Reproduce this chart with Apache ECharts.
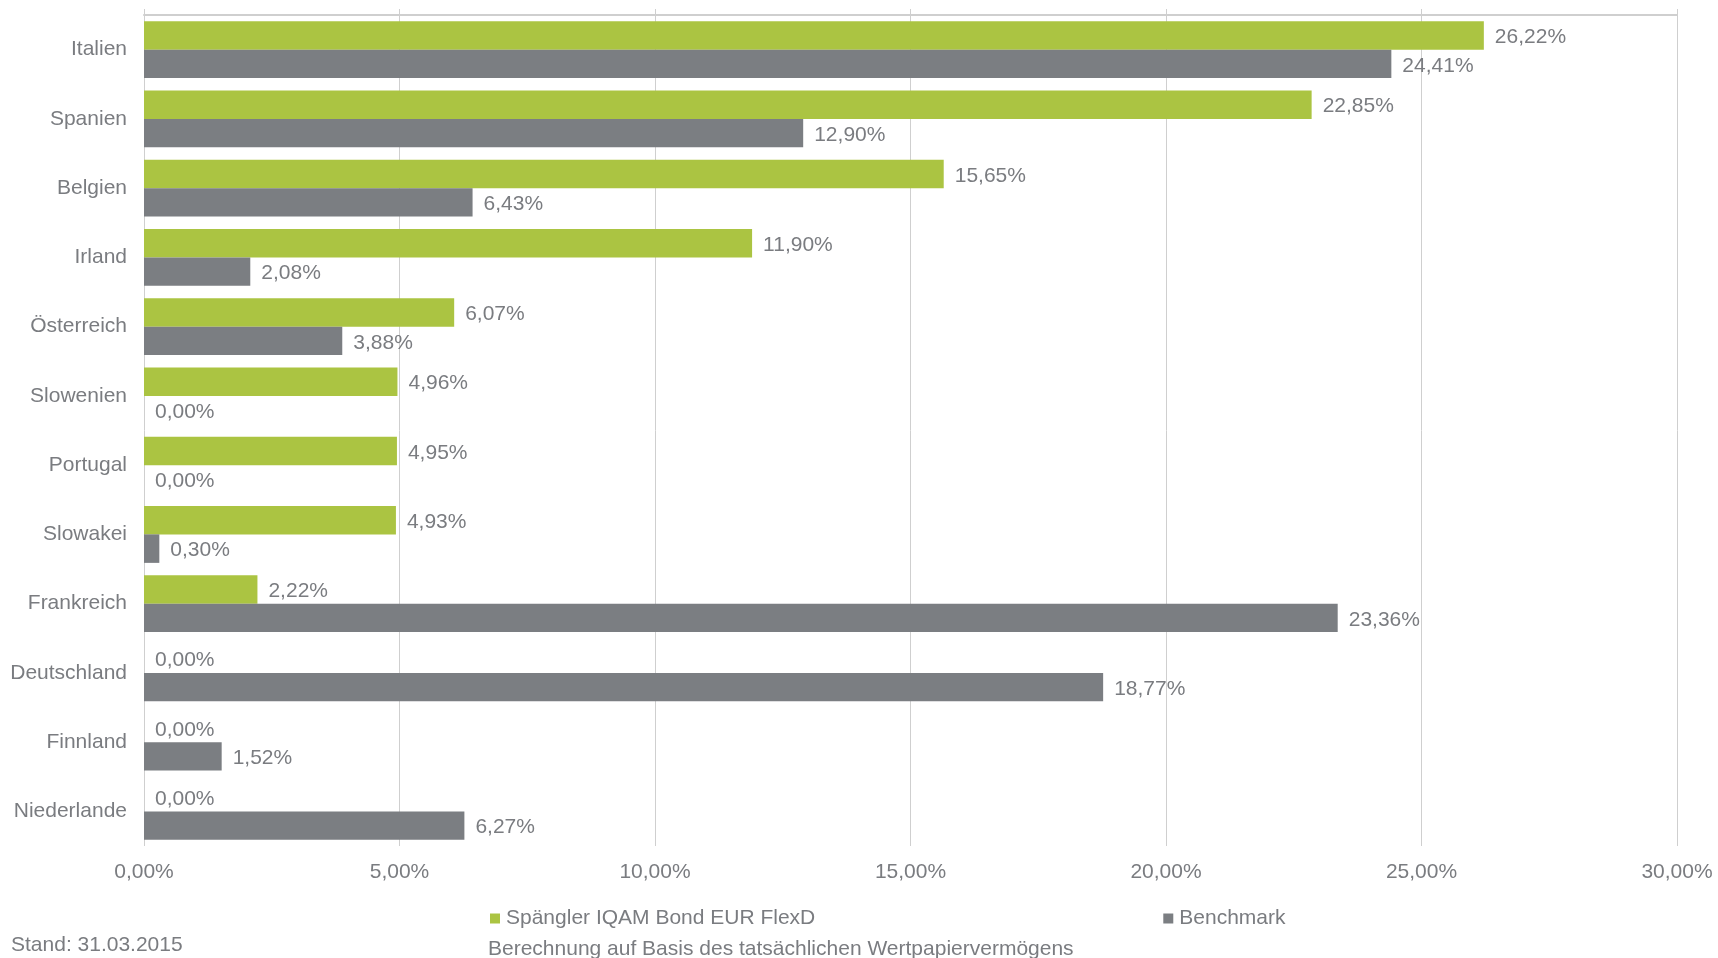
<!DOCTYPE html>
<html>
<head>
<meta charset="utf-8">
<script src="https://cdn.jsdelivr.net/npm/echarts@6/dist/echarts.min.js"></script>
<style>
html,body{margin:0;padding:0;background:#fff;}
#c{width:1718px;height:958px;}
</style>
</head>
<body>
<div id="c"></div>
<script>
const categories = ['Italien','Spanien','Belgien','Irland','Österreich','Slowenien','Portugal','Slowakei','Frankreich','Deutschland','Finnland','Niederlande'];
const fundValues = [26.22, 22.85, 15.65, 11.90, 6.07, 4.96, 4.95, 4.93, 2.22, 0.00, 0.00, 0.00];
const benchValues = [24.41, 12.90, 6.43, 2.08, 3.88, 0.00, 0.00, 0.30, 23.36, 18.77, 1.52, 6.27];
const seriesNames = ['Spängler IQAM Bond EUR FlexD', 'Benchmark'];
const footLeft = 'Stand: 31.03.2015';
const footNote = 'Berechnung auf Basis des tatsächlichen Wertpapiervermögens';

const FONT = '"Liberation Sans", Arial, sans-serif';
const TXT = '#7a7c80';
const GRID = '#cfcfcf';
const FS = 21;
const fmt = v => Number(v).toFixed(2).replace('.', ',') + '%';

const chart = echarts.init(document.getElementById('c'), null, {renderer: 'canvas'});
const labelCfg = {
  show: true, position: 'right', distance: 11, offset: [0, 2],
  color: TXT, fontSize: FS, fontFamily: FONT,
  formatter: p => fmt(p.value)
};
chart.setOption({
  animation: false,
  textStyle: {fontFamily: FONT},
  grid: {left: 144, right: 41, top: 15, bottom: 112, containLabel: false},
  legend: {
    data: seriesNames,
    left: 485, top: 903,
    icon: 'rect', itemWidth: 10, itemHeight: 10, itemGap: 348,
    textStyle: {color: TXT, fontSize: FS, fontFamily: FONT, padding: [0,0,0,1]}
  },
  xAxis: [{
    type: 'value', position: 'bottom', min: 0, max: 30, interval: 5,
    axisLine: {show: false},
    axisTick: {show: false},
    splitLine: {show: true, lineStyle: {color: GRID, width: 1}},
    axisLabel: {color: TXT, fontSize: FS, fontFamily: FONT, margin: 16, formatter: v => fmt(v)}
  }, {
    type: 'value', position: 'top', min: 0, max: 30, interval: 5,
    axisLine: {show: true, lineStyle: {color: GRID, width: 2}},
    axisTick: {show: true, length: 6, lineStyle: {color: GRID}},
    splitLine: {show: false},
    axisLabel: {show: false}
  }],
  yAxis: {
    type: 'category', data: categories, inverse: true,
    axisLine: {show: false}, axisTick: {show: false},
    axisLabel: {color: TXT, fontSize: FS, fontFamily: FONT, margin: 17, padding: [3, 0, 0, 0]}
  },
  series: [{
    name: seriesNames[0], type: 'bar', data: fundValues,
    xAxisIndex: 0,
    barGap: '0%', barCategoryGap: '17.7%',
    itemStyle: {color: '#abc442'},
    label: labelCfg
  }, {
    name: seriesNames[1], type: 'bar', data: benchValues,
    xAxisIndex: 0,
    barGap: '0%', barCategoryGap: '17.7%',
    itemStyle: {color: '#7b7e82'},
    label: labelCfg
  }],
  graphic: [{
    type: 'text', left: 11, top: 935,
    style: {text: footLeft, fill: TXT, font: FS + 'px ' + FONT}
  }, {
    type: 'text', left: 488, top: 939,
    style: {text: footNote, fill: TXT, font: FS + 'px ' + FONT}
  }]
});
</script>
</body>
</html>
